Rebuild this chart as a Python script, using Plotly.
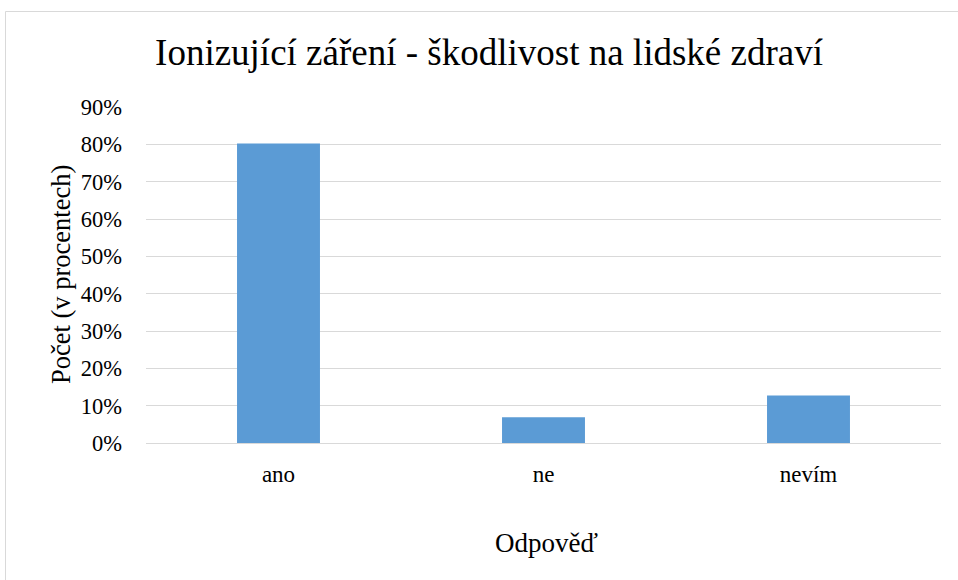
import plotly.graph_objects as go

categories = ["ano", "ne", "nevím"]
values = [80.2, 6.9, 12.7]
tick_vals = [0, 10, 20, 30, 40, 50, 60, 70, 80, 90]
tick_text = ["0%", "10%", "20%", "30%", "40%", "50%", "60%", "70%", "80%", "90%"]
title_text = "Ionizující záření - škodlivost na lidské zdraví"
x_title = "Odpověď"
y_title = "Počet (v procentech)"

FONT = "'Times New Roman', 'Liberation Serif', Tinos, 'DejaVu Serif', serif"

L, R, T, B = 146, 941, 107, 443  # plot area in screen pixels
PH = B - T
PW = R - L

fig = go.Figure()
fig.add_trace(go.Bar(x=categories, y=values, marker=dict(color="#5b9bd5", line=dict(width=0)),
                     hoverinfo="x+y"))

fig.update_layout(
    width=958, height=580,
    paper_bgcolor="white", plot_bgcolor="white",
    margin=dict(l=L, r=958 - R, t=T, b=580 - B, autoexpand=False),
    bargap=0.687,
    showlegend=False,
    font=dict(family=FONT, color="#000000", size=22),
    title=dict(text=title_text, x=489 / 958, xanchor="center", y=1 - 52 / 580,
               yanchor="middle", font=dict(family=FONT, size=37, color="#000000")),
)
fig.update_xaxes(showgrid=False, zeroline=False, showline=False, ticks="",
                 tickfont=dict(family=FONT, size=23), ticklabelstandoff=15, automargin=False)
fig.update_yaxes(range=[0, 90], tickvals=tick_vals, ticktext=tick_text,
                 showgrid=True, gridcolor="#d9d9d9", gridwidth=1,
                 zeroline=True, zerolinecolor="#d9d9d9", zerolinewidth=1,
                 showline=False, ticks="", tickfont=dict(family=FONT, size=22.5),
                 ticklabelstandoff=23, automargin=False)

fig.add_annotation(text=x_title, xref="paper", yref="paper", x=(546 - L) / PW, y=-(543 - B) / PH,
                   xanchor="center", yanchor="middle", showarrow=False,
                   font=dict(family=FONT, size=27))
fig.add_annotation(text=y_title, xref="paper", yref="paper", x=(61 - L) / PW, y=(B - 275) / PH,
                   xanchor="center", yanchor="middle", showarrow=False, textangle=-90,
                   font=dict(family=FONT, size=26.5))

fig.add_shape(type="rect", xref="paper", yref="paper",
              x0=(5.5 - L) / PW, x1=1.2, y0=-0.6, y1=(B - 11.5) / PH,
              line=dict(color="#d9d9d9", width=1), fillcolor="rgba(0,0,0,0)", layer="below")

fig.write_html("out.html", post_script="document.body.style.margin='0px';",
               config={"displayModeBar": False})
